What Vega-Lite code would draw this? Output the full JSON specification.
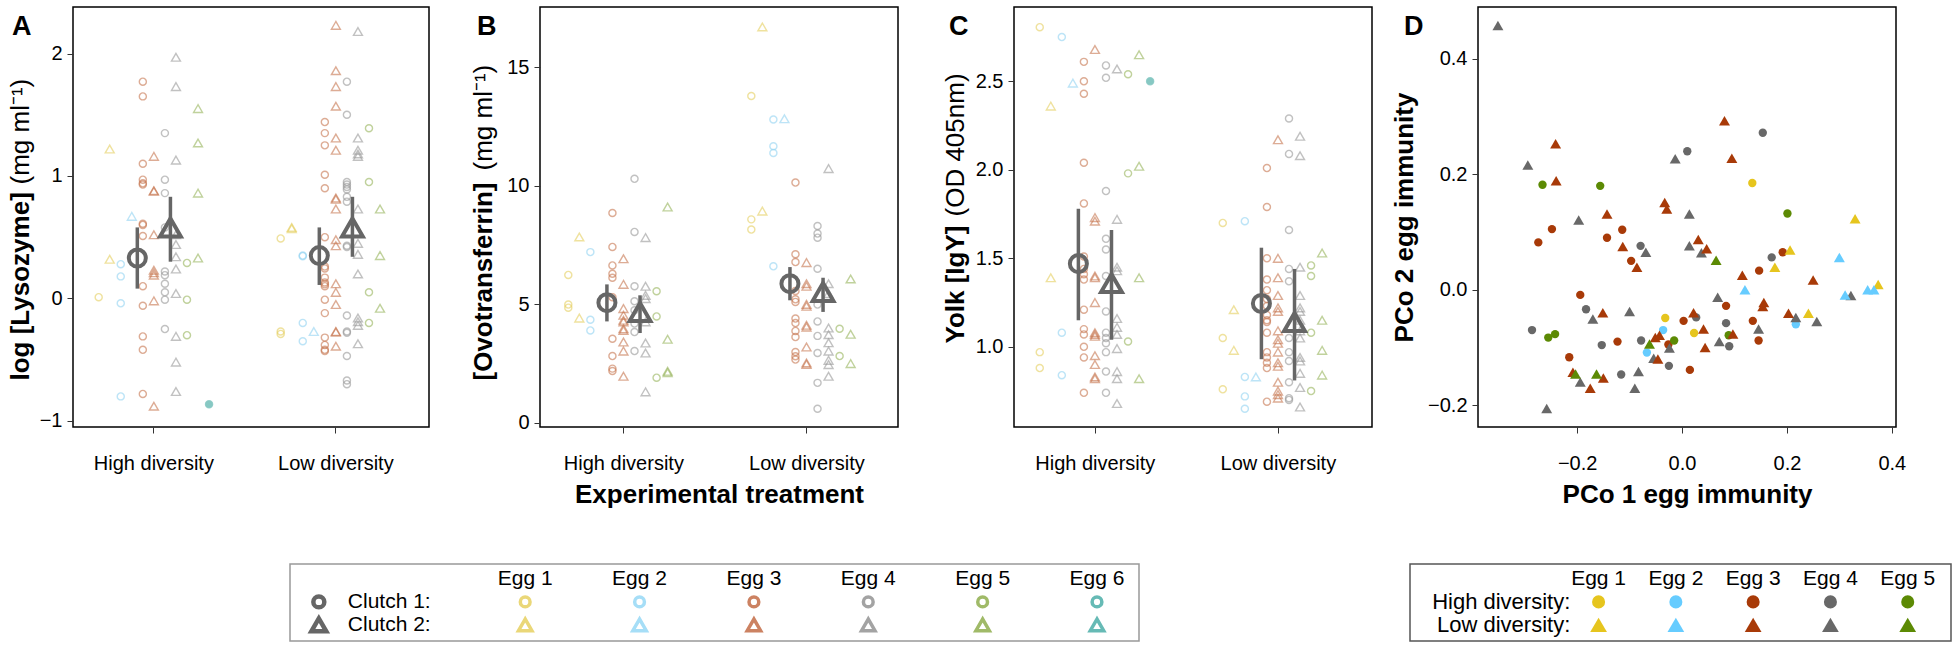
{
"$schema":"https://vega.github.io/schema/vega-lite/v6.json",
"padding":{"left":6,"top":6,"right":0,"bottom":0},
"config":{"font":"Liberation Sans","view":{"stroke":"#000","strokeWidth":1.5},
"axis":{"grid":false,"domain":false,"tickColor":"#333","tickSize":6,"labelFontSize":20,"labelColor":"#000","titleFontSize":26,"titleFontWeight":"bold","titleColor":"#000","labelPadding":5},
"title":{"fontSize":27,"fontWeight":"bold","color":"#000"}},
"datasets":{
"A":[
{"t":"H","s":"E1C1","v":0.01},{"t":"H","s":"E1C2","v":1.22},{"t":"H","s":"E1C2","v":0.32},
{"t":"H","s":"E2C1","v":0.28},{"t":"H","s":"E2C1","v":0.18},{"t":"H","s":"E2C1","v":-0.04},{"t":"H","s":"E2C1","v":-0.8},
{"t":"H","s":"E2C2","v":0.67},
{"t":"H","s":"E3C1","v":1.77},{"t":"H","s":"E3C1","v":1.65},{"t":"H","s":"E3C1","v":1.1},{"t":"H","s":"E3C1","v":0.97},{"t":"H","s":"E3C1","v":0.94},{"t":"H","s":"E3C1","v":0.93},{"t":"H","s":"E3C1","v":0.61},{"t":"H","s":"E3C1","v":0.6},{"t":"H","s":"E3C1","v":0.51},{"t":"H","s":"E3C1","v":0.1},{"t":"H","s":"E3C1","v":-0.06},{"t":"H","s":"E3C1","v":-0.31},{"t":"H","s":"E3C1","v":-0.42},{"t":"H","s":"E3C1","v":-0.78},
{"t":"H","s":"E3C2","v":1.16},{"t":"H","s":"E3C2","v":0.88},{"t":"H","s":"E3C2","v":0.875},{"t":"H","s":"E3C2","v":0.52},{"t":"H","s":"E3C2","v":0.23},{"t":"H","s":"E3C2","v":0.21},{"t":"H","s":"E3C2","v":0.19},{"t":"H","s":"E3C2","v":-0.02},{"t":"H","s":"E3C2","v":-0.88},
{"t":"H","s":"E4C1","v":1.35},{"t":"H","s":"E4C1","v":0.97},{"t":"H","s":"E4C1","v":0.86},{"t":"H","s":"E4C1","v":0.58},{"t":"H","s":"E4C1","v":0.22},{"t":"H","s":"E4C1","v":0.19},{"t":"H","s":"E4C1","v":0.12},{"t":"H","s":"E4C1","v":0.05},{"t":"H","s":"E4C1","v":-0.01},{"t":"H","s":"E4C1","v":-0.25},
{"t":"H","s":"E4C2","v":1.97},{"t":"H","s":"E4C2","v":1.73},{"t":"H","s":"E4C2","v":1.13},{"t":"H","s":"E4C2","v":0.52},{"t":"H","s":"E4C2","v":0.44},{"t":"H","s":"E4C2","v":0.34},{"t":"H","s":"E4C2","v":0.24},{"t":"H","s":"E4C2","v":0.04},{"t":"H","s":"E4C2","v":-0.31},{"t":"H","s":"E4C2","v":-0.52},{"t":"H","s":"E4C2","v":-0.76},
{"t":"H","s":"E5C1","v":0.29},{"t":"H","s":"E5C1","v":-0.01},{"t":"H","s":"E5C1","v":-0.3},
{"t":"H","s":"E5C2","v":1.55},{"t":"H","s":"E5C2","v":1.27},{"t":"H","s":"E5C2","v":0.86},{"t":"H","s":"E5C2","v":0.33},
{"t":"H","s":"E6C1","v":-0.865},
{"t":"L","s":"E1C1","v":0.49},{"t":"L","s":"E1C1","v":-0.27},{"t":"L","s":"E1C1","v":-0.29},
{"t":"L","s":"E1C2","v":0.58},{"t":"L","s":"E1C2","v":0.57},
{"t":"L","s":"E2C1","v":0.35},{"t":"L","s":"E2C1","v":0.345},{"t":"L","s":"E2C1","v":-0.2},{"t":"L","s":"E2C1","v":-0.35},
{"t":"L","s":"E2C2","v":-0.27},
{"t":"L","s":"E3C1","v":1.44},{"t":"L","s":"E3C1","v":1.35},{"t":"L","s":"E3C1","v":1.25},{"t":"L","s":"E3C1","v":1.01},{"t":"L","s":"E3C1","v":0.9},{"t":"L","s":"E3C1","v":0.5},{"t":"L","s":"E3C1","v":0.26},{"t":"L","s":"E3C1","v":0.245},{"t":"L","s":"E3C1","v":0.17},{"t":"L","s":"E3C1","v":0.13},{"t":"L","s":"E3C1","v":0.115},{"t":"L","s":"E3C1","v":0.1},{"t":"L","s":"E3C1","v":-0.01},{"t":"L","s":"E3C1","v":-0.12},{"t":"L","s":"E3C1","v":-0.32},{"t":"L","s":"E3C1","v":-0.38},{"t":"L","s":"E3C1","v":-0.42},{"t":"L","s":"E3C1","v":-0.43},
{"t":"L","s":"E3C2","v":2.23},{"t":"L","s":"E3C2","v":1.86},{"t":"L","s":"E3C2","v":1.73},{"t":"L","s":"E3C2","v":1.57},{"t":"L","s":"E3C2","v":1.31},{"t":"L","s":"E3C2","v":1.21},{"t":"L","s":"E3C2","v":0.82},{"t":"L","s":"E3C2","v":0.81},{"t":"L","s":"E3C2","v":0.73},{"t":"L","s":"E3C2","v":0.48},{"t":"L","s":"E3C2","v":0.43},{"t":"L","s":"E3C2","v":0.12},{"t":"L","s":"E3C2","v":0.05},{"t":"L","s":"E3C2","v":-0.05},{"t":"L","s":"E3C2","v":-0.27},{"t":"L","s":"E3C2","v":-0.275},{"t":"L","s":"E3C2","v":-0.39},
{"t":"L","s":"E4C1","v":1.77},{"t":"L","s":"E4C1","v":1.5},{"t":"L","s":"E4C1","v":0.95},{"t":"L","s":"E4C1","v":0.93},{"t":"L","s":"E4C1","v":0.91},{"t":"L","s":"E4C1","v":0.89},{"t":"L","s":"E4C1","v":0.83},{"t":"L","s":"E4C1","v":0.79},{"t":"L","s":"E4C1","v":0.43},{"t":"L","s":"E4C1","v":0.42},{"t":"L","s":"E4C1","v":-0.14},{"t":"L","s":"E4C1","v":-0.27},{"t":"L","s":"E4C1","v":-0.28},{"t":"L","s":"E4C1","v":-0.47},{"t":"L","s":"E4C1","v":-0.67},{"t":"L","s":"E4C1","v":-0.7},
{"t":"L","s":"E4C2","v":2.18},{"t":"L","s":"E4C2","v":1.31},{"t":"L","s":"E4C2","v":1.21},{"t":"L","s":"E4C2","v":1.18},{"t":"L","s":"E4C2","v":1.16},{"t":"L","s":"E4C2","v":0.73},{"t":"L","s":"E4C2","v":0.45},{"t":"L","s":"E4C2","v":0.36},{"t":"L","s":"E4C2","v":0.2},{"t":"L","s":"E4C2","v":-0.16},{"t":"L","s":"E4C2","v":-0.19},{"t":"L","s":"E4C2","v":-0.22},{"t":"L","s":"E4C2","v":-0.37},
{"t":"L","s":"E5C1","v":1.39},{"t":"L","s":"E5C1","v":0.95},{"t":"L","s":"E5C1","v":0.05},{"t":"L","s":"E5C1","v":-0.2},
{"t":"L","s":"E5C2","v":0.73},{"t":"L","s":"E5C2","v":0.35},{"t":"L","s":"E5C2","v":-0.08}
],
"mA":[{"t":"H","s":"M1","m":0.33,"lo":0.08,"hi":0.58},{"t":"H","s":"M2","m":0.58,"lo":0.3,"hi":0.83},{"t":"L","s":"M1","m":0.35,"lo":0.11,"hi":0.58},{"t":"L","s":"M2","m":0.58,"lo":0.34,"hi":0.83}],
"B":[
{"t":"H","s":"E1C1","v":6.24},{"t":"H","s":"E1C1","v":4.99},{"t":"H","s":"E1C1","v":4.86},
{"t":"H","s":"E1C2","v":7.84},{"t":"H","s":"E1C2","v":4.42},
{"t":"H","s":"E2C1","v":7.2},{"t":"H","s":"E2C1","v":4.35},{"t":"H","s":"E2C1","v":3.9},
{"t":"H","s":"E3C1","v":8.85},{"t":"H","s":"E3C1","v":7.42},{"t":"H","s":"E3C1","v":6.64},{"t":"H","s":"E3C1","v":6.29},{"t":"H","s":"E3C1","v":6.12},{"t":"H","s":"E3C1","v":5.3},{"t":"H","s":"E3C1","v":3.55},{"t":"H","s":"E3C1","v":2.82},{"t":"H","s":"E3C1","v":2.29},{"t":"H","s":"E3C1","v":2.19},
{"t":"H","s":"E3C2","v":6.92},{"t":"H","s":"E3C2","v":5.84},{"t":"H","s":"E3C2","v":4.82},{"t":"H","s":"E3C2","v":4.54},{"t":"H","s":"E3C2","v":4.33},{"t":"H","s":"E3C2","v":4.26},{"t":"H","s":"E3C2","v":3.97},{"t":"H","s":"E3C2","v":3.9},{"t":"H","s":"E3C2","v":3.41},{"t":"H","s":"E3C2","v":3.03},{"t":"H","s":"E3C2","v":1.97},
{"t":"H","s":"E4C1","v":10.29},{"t":"H","s":"E4C1","v":8.05},{"t":"H","s":"E4C1","v":5.76},{"t":"H","s":"E4C1","v":5.13},{"t":"H","s":"E4C1","v":4.75},{"t":"H","s":"E4C1","v":4.19},{"t":"H","s":"E4C1","v":3.83},{"t":"H","s":"E4C1","v":3.03},
{"t":"H","s":"E4C2","v":7.81},{"t":"H","s":"E4C2","v":5.76},{"t":"H","s":"E4C2","v":5.38},{"t":"H","s":"E4C2","v":5.24},{"t":"H","s":"E4C2","v":4.26},{"t":"H","s":"E4C2","v":3.37},{"t":"H","s":"E4C2","v":2.95},{"t":"H","s":"E4C2","v":1.31},
{"t":"H","s":"E5C1","v":5.55},{"t":"H","s":"E5C1","v":4.49},{"t":"H","s":"E5C1","v":1.91},
{"t":"H","s":"E5C2","v":9.1},{"t":"H","s":"E5C2","v":3.53},{"t":"H","s":"E5C2","v":2.18},{"t":"H","s":"E5C2","v":2.12},
{"t":"L","s":"E1C1","v":13.78},{"t":"L","s":"E1C1","v":8.58},{"t":"L","s":"E1C1","v":8.15},
{"t":"L","s":"E1C2","v":16.69},{"t":"L","s":"E1C2","v":8.93},
{"t":"L","s":"E2C1","v":12.79},{"t":"L","s":"E2C1","v":11.66},{"t":"L","s":"E2C1","v":11.38},{"t":"L","s":"E2C1","v":6.6},
{"t":"L","s":"E2C2","v":12.82},
{"t":"L","s":"E3C1","v":10.13},{"t":"L","s":"E3C1","v":7.11},{"t":"L","s":"E3C1","v":6.78},{"t":"L","s":"E3C1","v":5.56},{"t":"L","s":"E3C1","v":5.21},{"t":"L","s":"E3C1","v":5.1},{"t":"L","s":"E3C1","v":4.4},{"t":"L","s":"E3C1","v":4.21},{"t":"L","s":"E3C1","v":3.88},{"t":"L","s":"E3C1","v":3.62},{"t":"L","s":"E3C1","v":2.99},{"t":"L","s":"E3C1","v":2.81},{"t":"L","s":"E3C1","v":2.67},
{"t":"L","s":"E3C2","v":6.76},{"t":"L","s":"E3C2","v":5.87},{"t":"L","s":"E3C2","v":5.76},{"t":"L","s":"E3C2","v":5.0},{"t":"L","s":"E3C2","v":4.92},{"t":"L","s":"E3C2","v":4.12},{"t":"L","s":"E3C2","v":4.04},{"t":"L","s":"E3C2","v":3.2},{"t":"L","s":"E3C2","v":2.53},{"t":"L","s":"E3C2","v":2.47},
{"t":"L","s":"E4C1","v":8.3},{"t":"L","s":"E4C1","v":7.98},{"t":"L","s":"E4C1","v":7.81},{"t":"L","s":"E4C1","v":6.5},{"t":"L","s":"E4C1","v":4.99},{"t":"L","s":"E4C1","v":4.28},{"t":"L","s":"E4C1","v":3.67},{"t":"L","s":"E4C1","v":2.95},{"t":"L","s":"E4C1","v":1.69},{"t":"L","s":"E4C1","v":0.6},
{"t":"L","s":"E4C2","v":10.72},{"t":"L","s":"E4C2","v":5.87},{"t":"L","s":"E4C2","v":5.45},{"t":"L","s":"E4C2","v":4.0},{"t":"L","s":"E4C2","v":3.72},{"t":"L","s":"E4C2","v":3.38},{"t":"L","s":"E4C2","v":3.03},{"t":"L","s":"E4C2","v":2.64},{"t":"L","s":"E4C2","v":2.46},{"t":"L","s":"E4C2","v":1.97},
{"t":"L","s":"E5C1","v":3.97},{"t":"L","s":"E5C1","v":2.82},
{"t":"L","s":"E5C2","v":6.07},{"t":"L","s":"E5C2","v":3.74},{"t":"L","s":"E5C2","v":2.5}
],
"mB":[{"t":"H","s":"M1","m":5.07,"lo":4.28,"hi":5.84},{"t":"H","s":"M2","m":4.68,"lo":3.79,"hi":5.38},{"t":"L","s":"M1","m":5.87,"lo":5.17,"hi":6.57},{"t":"L","s":"M2","m":5.52,"lo":4.68,"hi":6.12}],
"C":[
{"t":"H","s":"E1C1","v":2.806},{"t":"H","s":"E1C1","v":0.97},{"t":"H","s":"E1C1","v":0.88},
{"t":"H","s":"E1C2","v":2.36},{"t":"H","s":"E1C2","v":1.39},
{"t":"H","s":"E2C1","v":2.75},{"t":"H","s":"E2C1","v":1.08},{"t":"H","s":"E2C1","v":0.84},
{"t":"H","s":"E2C2","v":2.49},
{"t":"H","s":"E3C1","v":2.61},{"t":"H","s":"E3C1","v":2.5},{"t":"H","s":"E3C1","v":2.43},{"t":"H","s":"E3C1","v":2.04},{"t":"H","s":"E3C1","v":1.81},{"t":"H","s":"E3C1","v":1.51},{"t":"H","s":"E3C1","v":1.44},{"t":"H","s":"E3C1","v":1.41},{"t":"H","s":"E3C1","v":1.38},{"t":"H","s":"E3C1","v":1.21},{"t":"H","s":"E3C1","v":1.1},{"t":"H","s":"E3C1","v":1.07},{"t":"H","s":"E3C1","v":1.0},{"t":"H","s":"E3C1","v":0.94},{"t":"H","s":"E3C1","v":0.74},
{"t":"H","s":"E3C2","v":2.68},{"t":"H","s":"E3C2","v":1.73},{"t":"H","s":"E3C2","v":1.71},{"t":"H","s":"E3C2","v":1.4},{"t":"H","s":"E3C2","v":1.39},{"t":"H","s":"E3C2","v":1.25},{"t":"H","s":"E3C2","v":1.08},{"t":"H","s":"E3C2","v":1.07},{"t":"H","s":"E3C2","v":1.06},{"t":"H","s":"E3C2","v":0.95},{"t":"H","s":"E3C2","v":0.9},{"t":"H","s":"E3C2","v":0.83},{"t":"H","s":"E3C2","v":0.82},
{"t":"H","s":"E4C1","v":2.59},{"t":"H","s":"E4C1","v":2.52},{"t":"H","s":"E4C1","v":1.88},{"t":"H","s":"E4C1","v":1.61},{"t":"H","s":"E4C1","v":1.55},{"t":"H","s":"E4C1","v":1.4},{"t":"H","s":"E4C1","v":1.2},{"t":"H","s":"E4C1","v":1.08},{"t":"H","s":"E4C1","v":1.05},{"t":"H","s":"E4C1","v":1.02},{"t":"H","s":"E4C1","v":0.97},{"t":"H","s":"E4C1","v":0.86},{"t":"H","s":"E4C1","v":0.74},
{"t":"H","s":"E4C2","v":2.57},{"t":"H","s":"E4C2","v":1.72},{"t":"H","s":"E4C2","v":1.45},{"t":"H","s":"E4C2","v":1.43},{"t":"H","s":"E4C2","v":1.16},{"t":"H","s":"E4C2","v":1.11},{"t":"H","s":"E4C2","v":1.07},{"t":"H","s":"E4C2","v":0.99},{"t":"H","s":"E4C2","v":0.86},{"t":"H","s":"E4C2","v":0.82},{"t":"H","s":"E4C2","v":0.68},
{"t":"H","s":"E5C1","v":2.54},{"t":"H","s":"E5C1","v":1.98},{"t":"H","s":"E5C1","v":1.03},
{"t":"H","s":"E5C2","v":2.65},{"t":"H","s":"E5C2","v":2.02},{"t":"H","s":"E5C2","v":1.39},{"t":"H","s":"E5C2","v":0.82},
{"t":"H","s":"E6C1","v":2.5},
{"t":"L","s":"E1C1","v":1.7},{"t":"L","s":"E1C1","v":1.05},{"t":"L","s":"E1C1","v":0.76},
{"t":"L","s":"E1C2","v":1.21},{"t":"L","s":"E1C2","v":0.98},
{"t":"L","s":"E2C1","v":1.71},{"t":"L","s":"E2C1","v":0.83},{"t":"L","s":"E2C1","v":0.72},{"t":"L","s":"E2C1","v":0.65},
{"t":"L","s":"E2C2","v":0.83},
{"t":"L","s":"E3C1","v":2.01},{"t":"L","s":"E3C1","v":1.79},{"t":"L","s":"E3C1","v":1.5},{"t":"L","s":"E3C1","v":1.38},{"t":"L","s":"E3C1","v":1.32},{"t":"L","s":"E3C1","v":1.27},{"t":"L","s":"E3C1","v":1.23},{"t":"L","s":"E3C1","v":1.18},{"t":"L","s":"E3C1","v":1.15},{"t":"L","s":"E3C1","v":1.14},{"t":"L","s":"E3C1","v":1.08},{"t":"L","s":"E3C1","v":0.97},{"t":"L","s":"E3C1","v":0.94},{"t":"L","s":"E3C1","v":0.91},{"t":"L","s":"E3C1","v":0.88},{"t":"L","s":"E3C1","v":0.69},
{"t":"L","s":"E3C2","v":2.17},{"t":"L","s":"E3C2","v":1.5},{"t":"L","s":"E3C2","v":1.39},{"t":"L","s":"E3C2","v":1.29},{"t":"L","s":"E3C2","v":1.22},{"t":"L","s":"E3C2","v":1.2},{"t":"L","s":"E3C2","v":1.09},{"t":"L","s":"E3C2","v":1.04},{"t":"L","s":"E3C2","v":1.02},{"t":"L","s":"E3C2","v":0.97},{"t":"L","s":"E3C2","v":0.91},{"t":"L","s":"E3C2","v":0.89},{"t":"L","s":"E3C2","v":0.8},{"t":"L","s":"E3C2","v":0.75},{"t":"L","s":"E3C2","v":0.73},{"t":"L","s":"E3C2","v":0.71},
{"t":"L","s":"E4C1","v":2.29},{"t":"L","s":"E4C1","v":2.09},{"t":"L","s":"E4C1","v":1.66},{"t":"L","s":"E4C1","v":1.44},{"t":"L","s":"E4C1","v":1.37},{"t":"L","s":"E4C1","v":1.05},{"t":"L","s":"E4C1","v":0.97},{"t":"L","s":"E4C1","v":0.92},{"t":"L","s":"E4C1","v":0.8},{"t":"L","s":"E4C1","v":0.71},{"t":"L","s":"E4C1","v":0.7},
{"t":"L","s":"E4C2","v":2.19},{"t":"L","s":"E4C2","v":2.08},{"t":"L","s":"E4C2","v":1.45},{"t":"L","s":"E4C2","v":1.29},{"t":"L","s":"E4C2","v":1.22},{"t":"L","s":"E4C2","v":1.2},{"t":"L","s":"E4C2","v":1.15},{"t":"L","s":"E4C2","v":1.09},{"t":"L","s":"E4C2","v":1.05},{"t":"L","s":"E4C2","v":0.94},{"t":"L","s":"E4C2","v":0.92},{"t":"L","s":"E4C2","v":0.85},{"t":"L","s":"E4C2","v":0.77},{"t":"L","s":"E4C2","v":0.66},
{"t":"L","s":"E5C1","v":1.46},{"t":"L","s":"E5C1","v":1.4},{"t":"L","s":"E5C1","v":1.08},{"t":"L","s":"E5C1","v":0.75},
{"t":"L","s":"E5C2","v":1.53},{"t":"L","s":"E5C2","v":1.15},{"t":"L","s":"E5C2","v":0.98},{"t":"L","s":"E5C2","v":0.84}
],
"mC":[{"t":"H","s":"M1","m":1.47,"lo":1.15,"hi":1.78},{"t":"H","s":"M2","m":1.36,"lo":1.04,"hi":1.66},{"t":"L","s":"M1","m":1.245,"lo":0.93,"hi":1.56},{"t":"L","s":"M2","m":1.14,"lo":0.81,"hi":1.44}],
"D":[
{"g":"H","e":"Egg 4","x":0.154,"y":0.272},{"g":"H","e":"Egg 4","x":0.01,"y":0.24},{"g":"H","e":"Egg 4","x":-0.079,"y":0.076},{"g":"H","e":"Egg 4","x":0.171,"y":0.056},{"g":"H","e":"Egg 4","x":-0.183,"y":-0.034},{"g":"H","e":"Egg 4","x":-0.286,"y":-0.07},{"g":"H","e":"Egg 4","x":-0.153,"y":-0.096},{"g":"H","e":"Egg 4","x":-0.078,"y":-0.088},{"g":"H","e":"Egg 4","x":-0.116,"y":-0.147},{"g":"H","e":"Egg 4","x":-0.025,"y":-0.132},{"g":"H","e":"Egg 4","x":0.027,"y":-0.048},{"g":"H","e":"Egg 4","x":0.084,"y":-0.058},{"g":"H","e":"Egg 4","x":0.09,"y":-0.098},
{"g":"H","e":"Egg 3","x":-0.248,"y":0.105},{"g":"H","e":"Egg 3","x":-0.274,"y":0.082},{"g":"H","e":"Egg 3","x":-0.143,"y":0.09},{"g":"H","e":"Egg 3","x":-0.114,"y":0.104},{"g":"H","e":"Egg 3","x":-0.097,"y":0.05},{"g":"H","e":"Egg 3","x":-0.194,"y":-0.009},{"g":"H","e":"Egg 3","x":-0.215,"y":-0.117},{"g":"H","e":"Egg 3","x":-0.123,"y":-0.09},{"g":"H","e":"Egg 3","x":-0.026,"y":-0.095},{"g":"H","e":"Egg 3","x":0.003,"y":-0.054},{"g":"H","e":"Egg 3","x":0.015,"y":-0.139},{"g":"H","e":"Egg 3","x":0.084,"y":-0.028},{"g":"H","e":"Egg 3","x":0.135,"y":-0.054},{"g":"H","e":"Egg 3","x":0.146,"y":-0.088},{"g":"H","e":"Egg 3","x":0.147,"y":0.033},{"g":"H","e":"Egg 3","x":0.192,"y":0.065},
{"g":"H","e":"Egg 1","x":0.134,"y":0.185},{"g":"H","e":"Egg 1","x":-0.032,"y":-0.049},{"g":"H","e":"Egg 1","x":0.023,"y":-0.075},
{"g":"H","e":"Egg 2","x":-0.036,"y":-0.07},{"g":"H","e":"Egg 2","x":-0.067,"y":-0.109},{"g":"H","e":"Egg 2","x":0.217,"y":-0.06},
{"g":"H","e":"Egg 5","x":-0.266,"y":0.182},{"g":"H","e":"Egg 5","x":-0.156,"y":0.18},{"g":"H","e":"Egg 5","x":0.201,"y":0.132},{"g":"H","e":"Egg 5","x":-0.255,"y":-0.083},{"g":"H","e":"Egg 5","x":-0.242,"y":-0.077},{"g":"H","e":"Egg 5","x":-0.015,"y":-0.088},{"g":"H","e":"Egg 5","x":0.089,"y":-0.079},
{"g":"L","e":"Egg 4","x":-0.351,"y":0.458},{"g":"L","e":"Egg 4","x":-0.294,"y":0.216},{"g":"L","e":"Egg 4","x":-0.013,"y":0.227},{"g":"L","e":"Egg 4","x":-0.197,"y":0.121},{"g":"L","e":"Egg 4","x":0.014,"y":0.131},{"g":"L","e":"Egg 4","x":0.014,"y":0.076},{"g":"L","e":"Egg 4","x":-0.069,"y":0.065},{"g":"L","e":"Egg 4","x":0.037,"y":0.064},{"g":"L","e":"Egg 4","x":0.068,"y":-0.013},{"g":"L","e":"Egg 4","x":-0.1,"y":-0.038},{"g":"L","e":"Egg 4","x":-0.17,"y":-0.051},{"g":"L","e":"Egg 4","x":0.146,"y":-0.068},{"g":"L","e":"Egg 4","x":0.217,"y":-0.048},{"g":"L","e":"Egg 4","x":0.257,"y":-0.055},{"g":"L","e":"Egg 4","x":0.322,"y":-0.01},{"g":"L","e":"Egg 4","x":0.071,"y":-0.09},{"g":"L","e":"Egg 4","x":-0.024,"y":-0.101},{"g":"L","e":"Egg 4","x":-0.054,"y":-0.119},{"g":"L","e":"Egg 4","x":-0.083,"y":-0.142},{"g":"L","e":"Egg 4","x":-0.194,"y":-0.16},{"g":"L","e":"Egg 4","x":-0.09,"y":-0.171},{"g":"L","e":"Egg 4","x":-0.258,"y":-0.206},
{"g":"L","e":"Egg 3","x":-0.241,"y":0.253},{"g":"L","e":"Egg 3","x":-0.24,"y":0.189},{"g":"L","e":"Egg 3","x":0.081,"y":0.293},{"g":"L","e":"Egg 3","x":0.095,"y":0.228},{"g":"L","e":"Egg 3","x":-0.033,"y":0.151},{"g":"L","e":"Egg 3","x":-0.029,"y":0.14},{"g":"L","e":"Egg 3","x":-0.143,"y":0.131},{"g":"L","e":"Egg 3","x":-0.113,"y":0.075},{"g":"L","e":"Egg 3","x":-0.086,"y":0.039},{"g":"L","e":"Egg 3","x":0.031,"y":0.087},{"g":"L","e":"Egg 3","x":0.047,"y":0.071},{"g":"L","e":"Egg 3","x":0.115,"y":0.025},{"g":"L","e":"Egg 3","x":0.25,"y":0.017},{"g":"L","e":"Egg 3","x":0.156,"y":-0.022},{"g":"L","e":"Egg 3","x":0.154,"y":-0.029},{"g":"L","e":"Egg 3","x":-0.151,"y":-0.04},{"g":"L","e":"Egg 3","x":0.022,"y":-0.04},{"g":"L","e":"Egg 3","x":0.041,"y":-0.068},{"g":"L","e":"Egg 3","x":0.203,"y":-0.041},{"g":"L","e":"Egg 3","x":-0.051,"y":-0.083},{"g":"L","e":"Egg 3","x":-0.043,"y":-0.079},{"g":"L","e":"Egg 3","x":0.097,"y":-0.077},{"g":"L","e":"Egg 3","x":0.044,"y":-0.1},{"g":"L","e":"Egg 3","x":-0.046,"y":-0.12},{"g":"L","e":"Egg 3","x":-0.208,"y":-0.143},{"g":"L","e":"Egg 3","x":-0.175,"y":-0.171},{"g":"L","e":"Egg 3","x":-0.15,"y":-0.153},
{"g":"L","e":"Egg 1","x":0.33,"y":0.123},{"g":"L","e":"Egg 1","x":0.206,"y":0.069},{"g":"L","e":"Egg 1","x":0.177,"y":0.039},{"g":"L","e":"Egg 1","x":0.374,"y":0.009},{"g":"L","e":"Egg 1","x":0.241,"y":-0.041},
{"g":"L","e":"Egg 2","x":0.3,"y":0.056},{"g":"L","e":"Egg 2","x":0.12,"y":0.0},{"g":"L","e":"Egg 2","x":0.311,"y":-0.009},{"g":"L","e":"Egg 2","x":0.354,"y":0.0},{"g":"L","e":"Egg 2","x":0.366,"y":0.0},
{"g":"L","e":"Egg 5","x":0.065,"y":0.051},{"g":"L","e":"Egg 5","x":-0.062,"y":-0.094},{"g":"L","e":"Egg 5","x":-0.163,"y":-0.146},{"g":"L","e":"Egg 5","x":-0.203,"y":-0.146}
],
"L1h":[{"row":"head","col":"Egg 1"},{"row":"head","col":"Egg 2"},{"row":"head","col":"Egg 3"},{"row":"head","col":"Egg 4"},{"row":"head","col":"Egg 5"},{"row":"head","col":"Egg 6"}],
"L1k":[{"row":"r1","col":"key","txt":"Clutch 1:"},{"row":"r2","col":"key","txt":"Clutch 2:"}],
"L1s":[{"row":"r1","col":"Egg 1"},{"row":"r1","col":"Egg 2"},{"row":"r1","col":"Egg 3"},{"row":"r1","col":"Egg 4"},{"row":"r1","col":"Egg 5"},{"row":"r1","col":"Egg 6"},{"row":"r2","col":"Egg 1"},{"row":"r2","col":"Egg 2"},{"row":"r2","col":"Egg 3"},{"row":"r2","col":"Egg 4"},{"row":"r2","col":"Egg 5"},{"row":"r2","col":"Egg 6"}],
"L2h":[{"row":"head","col":"Egg 1"},{"row":"head","col":"Egg 2"},{"row":"head","col":"Egg 3"},{"row":"head","col":"Egg 4"},{"row":"head","col":"Egg 5"}],
"L2k":[{"row":"r1","col":"key","txt":"High diversity:"},{"row":"r2","col":"key","txt":"Low diversity:"}],
"L2s":[{"row":"r1","col":"Egg 1"},{"row":"r1","col":"Egg 2"},{"row":"r1","col":"Egg 3"},{"row":"r1","col":"Egg 4"},{"row":"r1","col":"Egg 5"},{"row":"r2","col":"Egg 1"},{"row":"r2","col":"Egg 2"},{"row":"r2","col":"Egg 3"},{"row":"r2","col":"Egg 4"},{"row":"r2","col":"Egg 5"}]
},
"spacing":55,
"resolve":{"scale":{"color":"independent","shape":"independent","fill":"independent","size":"independent"}},
"vconcat":[
{"bounds":"flush","spacing":0,
 "resolve":{"scale":{"color":"independent","shape":"independent","fill":"independent","size":"independent"}},
 "hconcat":[
  {"width":356,"height":420,
   "title":{"text":"A","anchor":"start","frame":"group","baseline":"top","offset":0,"dx":-61,"dy":34},
   "resolve":{"axis":{"y":"independent"}},
   "layer":[
    {"data":{"name":"A"},"mark":{"type":"point","filled":false,"strokeWidth":1.4,"strokeOpacity":0.85},
     "encoding":{
      "x":{"field":"t","type":"nominal","scale":{"domain":["H","L"],"paddingInner":0.242,"paddingOuter":0.099,"align":0.33},"axis":{"title":null,"labelAngle":0,"labelPadding":20,"labelExpr":"datum.value=='H'?'High diversity':'Low diversity'"}},
      "xOffset":{"field":"s","type":"nominal","scale":{"domain":["x0","x1","E1C1","x2","E1C2","x3","E2C1","x4","E2C2","M1","E3C1","x5","E3C2","x6","E4C1","M2","E4C2","x7","E5C1","x8","E5C2","x9","E6C1","x10","E6C2"],"paddingInner":0,"paddingOuter":0}},
      "y":{"field":"v","type":"quantitative","scale":{"domain":[-1.05,2.38],"nice":false,"zero":false},"axis":{"orient":"left","values":[-1,0,1,2],"title":"log [Lysozyme]","titleX":-53,"titleY":373,"titleAlign":"left","titleBaseline":"middle","titleAngle":-90}},
      "color":{"field":"s","type":"nominal","scale":{"domain":["E1C1","E1C2","E2C1","E2C2","E3C1","E3C2","E4C1","E4C2","E5C1","E5C2","E6C1","E6C2"],"range":["#E5CF5E","#E5CF5E","#92D4F2","#92D4F2","#C7764F","#C7764F","#999999","#999999","#97B45A","#97B45A","#55B2AA","#55B2AA"]},"legend":null},
      "fill":{"condition":{"test":"datum.s=='E6C1'","value":"#55B2AA"},"value":"transparent"},
      "size":{"field":"s","type":"nominal","scale":{"type":"ordinal","domain":["E1C1","E1C2","E2C1","E2C2","E3C1","E3C2","E4C1","E4C2","E5C1","E5C2","E6C1","E6C2"],"range":[50,80,50,80,50,80,50,80,50,80,50,80]},"legend":null},
      "shape":{"field":"s","type":"nominal","scale":{"domain":["E1C1","E1C2","E2C1","E2C2","E3C1","E3C2","E4C1","E4C2","E5C1","E5C2","E6C1","E6C2"],"range":["circle","triangle-up","circle","triangle-up","circle","triangle-up","circle","triangle-up","circle","triangle-up","circle","triangle-up"]},"legend":null}
     }},
    {"data":{"name":"mA"},"mark":{"type":"rule","color":"#666","strokeWidth":3.5},
     "encoding":{
      "x":{"field":"t","type":"nominal","axis":{"title":null,"labelAngle":0,"labelPadding":20,"labelExpr":"datum.value=='H'?'High diversity':'Low diversity'"}},
      "xOffset":{"field":"s","type":"nominal"},
      "y":{"field":"lo","type":"quantitative","axis":{"orient":"left","labels":false,"ticks":false,"title":"(mg ml⁻¹)","titleFontWeight":"normal","titleX":-53,"titleY":177,"titleAlign":"left","titleBaseline":"middle","titleAngle":-90}},
      "y2":{"field":"hi"}}},
    {"data":{"name":"mA"},"transform":[{"filter":"datum.s=='M1'"}],"mark":{"type":"point","shape":"circle","size":290,"filled":false,"color":"#666","strokeWidth":4,"opacity":1},
     "encoding":{
      "x":{"field":"t","type":"nominal","axis":{"title":null,"labelAngle":0,"labelPadding":20,"labelExpr":"datum.value=='H'?'High diversity':'Low diversity'"}},
      "xOffset":{"field":"s","type":"nominal"},
      "y":{"field":"m","type":"quantitative","axis":null}}},
    {"data":{"name":"mA"},"transform":[{"filter":"datum.s=='M2'"}],"mark":{"type":"point","shape":"triangle-up","size":430,"filled":false,"color":"#666","strokeWidth":4,"opacity":1},
     "encoding":{
      "x":{"field":"t","type":"nominal","axis":{"title":null,"labelAngle":0,"labelPadding":20,"labelExpr":"datum.value=='H'?'High diversity':'Low diversity'"}},
      "xOffset":{"field":"s","type":"nominal"},
      "y":{"field":"m","type":"quantitative","axis":null}}}
   ]},
  {"width":111,"height":420,"data":{"values":[]},"mark":"point","view":{"stroke":null}},
  {"width":358,"height":420,
   "title":{"text":"B","anchor":"start","frame":"group","baseline":"top","offset":0,"dx":-63,"dy":34},
   "resolve":{"axis":{"y":"independent"}},
   "layer":[
    {"data":{"name":"B"},"mark":{"type":"point","filled":false,"strokeWidth":1.4,"strokeOpacity":0.85},
     "encoding":{
      "x":{"field":"t","type":"nominal","scale":{"domain":["H","L"],"paddingInner":0.242,"paddingOuter":0.099,"align":0.4},"axis":{"title":"Experimental treatment","titlePadding":8,"labelAngle":0,"labelPadding":20,"labelExpr":"datum.value=='H'?'High diversity':'Low diversity'"}},
      "xOffset":{"field":"s","type":"nominal","scale":{"domain":["x0","x1","E1C1","x2","E1C2","x3","E2C1","x4","E2C2","M1","E3C1","x5","E3C2","x6","E4C1","M2","E4C2","x7","E5C1","x8","E5C2","x9","E6C1","x10","E6C2"],"paddingInner":0,"paddingOuter":0}},
      "y":{"field":"v","type":"quantitative","scale":{"domain":[-0.17,17.53],"nice":false,"zero":false},"axis":{"orient":"left","values":[0,5,10,15],"title":"[Ovotransferrin]","titleX":-57,"titleY":373,"titleAlign":"left","titleBaseline":"middle","titleAngle":-90}},
      "color":{"field":"s","type":"nominal","scale":{"domain":["E1C1","E1C2","E2C1","E2C2","E3C1","E3C2","E4C1","E4C2","E5C1","E5C2","E6C1","E6C2"],"range":["#E5CF5E","#E5CF5E","#92D4F2","#92D4F2","#C7764F","#C7764F","#999999","#999999","#97B45A","#97B45A","#55B2AA","#55B2AA"]},"legend":null},
      "fill":{"condition":{"test":"datum.s=='E6C1'","value":"#55B2AA"},"value":"transparent"},
      "size":{"field":"s","type":"nominal","scale":{"type":"ordinal","domain":["E1C1","E1C2","E2C1","E2C2","E3C1","E3C2","E4C1","E4C2","E5C1","E5C2","E6C1","E6C2"],"range":[50,80,50,80,50,80,50,80,50,80,50,80]},"legend":null},
      "shape":{"field":"s","type":"nominal","scale":{"domain":["E1C1","E1C2","E2C1","E2C2","E3C1","E3C2","E4C1","E4C2","E5C1","E5C2","E6C1","E6C2"],"range":["circle","triangle-up","circle","triangle-up","circle","triangle-up","circle","triangle-up","circle","triangle-up","circle","triangle-up"]},"legend":null}
     }},
    {"data":{"name":"mB"},"mark":{"type":"rule","color":"#666","strokeWidth":3.5},
     "encoding":{
      "x":{"field":"t","type":"nominal","axis":{"title":"Experimental treatment","titlePadding":8,"labelAngle":0,"labelPadding":20,"labelExpr":"datum.value=='H'?'High diversity':'Low diversity'"}},
      "xOffset":{"field":"s","type":"nominal"},
      "y":{"field":"lo","type":"quantitative","axis":{"orient":"left","labels":false,"ticks":false,"title":"(mg ml⁻¹)","titleFontWeight":"normal","titleX":-57,"titleY":163,"titleAlign":"left","titleBaseline":"middle","titleAngle":-90}},
      "y2":{"field":"hi"}}},
    {"data":{"name":"mB"},"transform":[{"filter":"datum.s=='M1'"}],"mark":{"type":"point","shape":"circle","size":290,"filled":false,"color":"#666","strokeWidth":4,"opacity":1},
     "encoding":{
      "x":{"field":"t","type":"nominal","axis":{"title":"Experimental treatment","titlePadding":8,"labelAngle":0,"labelPadding":20,"labelExpr":"datum.value=='H'?'High diversity':'Low diversity'"}},
      "xOffset":{"field":"s","type":"nominal"},
      "y":{"field":"m","type":"quantitative","axis":null}}},
    {"data":{"name":"mB"},"transform":[{"filter":"datum.s=='M2'"}],"mark":{"type":"point","shape":"triangle-up","size":430,"filled":false,"color":"#666","strokeWidth":4,"opacity":1},
     "encoding":{
      "x":{"field":"t","type":"nominal","axis":{"title":"Experimental treatment","titlePadding":8,"labelAngle":0,"labelPadding":20,"labelExpr":"datum.value=='H'?'High diversity':'Low diversity'"}},
      "xOffset":{"field":"s","type":"nominal"},
      "y":{"field":"m","type":"quantitative","axis":null}}}
   ]},
  {"width":116,"height":420,"data":{"values":[]},"mark":"point","view":{"stroke":null}},
  {"width":358,"height":420,
   "title":{"text":"C","anchor":"start","frame":"group","baseline":"top","offset":0,"dx":-65,"dy":34},
   "resolve":{"axis":{"y":"independent"}},
   "layer":[
    {"data":{"name":"C"},"mark":{"type":"point","filled":false,"strokeWidth":1.4,"strokeOpacity":0.85},
     "encoding":{
      "x":{"field":"t","type":"nominal","scale":{"domain":["H","L"],"paddingInner":0.242,"paddingOuter":0.099,"align":0.33},"axis":{"title":null,"labelAngle":0,"labelPadding":20,"labelExpr":"datum.value=='H'?'High diversity':'Low diversity'"}},
      "xOffset":{"field":"s","type":"nominal","scale":{"domain":["x0","x1","E1C1","x2","E1C2","x3","E2C1","x4","E2C2","M1","E3C1","x5","E3C2","x6","E4C1","M2","E4C2","x7","E5C1","x8","E5C2","x9","E6C1","x10","E6C2"],"paddingInner":0,"paddingOuter":0}},
      "y":{"field":"v","type":"quantitative","scale":{"domain":[0.547,2.92],"nice":false,"zero":false},"axis":{"orient":"left","values":[1,1.5,2,2.5],"format":".1f","title":"Yolk [IgY]","titleX":-59,"titleY":336,"titleAlign":"left","titleBaseline":"middle","titleAngle":-90}},
      "color":{"field":"s","type":"nominal","scale":{"domain":["E1C1","E1C2","E2C1","E2C2","E3C1","E3C2","E4C1","E4C2","E5C1","E5C2","E6C1","E6C2"],"range":["#E5CF5E","#E5CF5E","#92D4F2","#92D4F2","#C7764F","#C7764F","#999999","#999999","#97B45A","#97B45A","#55B2AA","#55B2AA"]},"legend":null},
      "fill":{"condition":{"test":"datum.s=='E6C1'","value":"#55B2AA"},"value":"transparent"},
      "size":{"field":"s","type":"nominal","scale":{"type":"ordinal","domain":["E1C1","E1C2","E2C1","E2C2","E3C1","E3C2","E4C1","E4C2","E5C1","E5C2","E6C1","E6C2"],"range":[50,80,50,80,50,80,50,80,50,80,50,80]},"legend":null},
      "shape":{"field":"s","type":"nominal","scale":{"domain":["E1C1","E1C2","E2C1","E2C2","E3C1","E3C2","E4C1","E4C2","E5C1","E5C2","E6C1","E6C2"],"range":["circle","triangle-up","circle","triangle-up","circle","triangle-up","circle","triangle-up","circle","triangle-up","circle","triangle-up"]},"legend":null}
     }},
    {"data":{"name":"mC"},"mark":{"type":"rule","color":"#666","strokeWidth":3.5},
     "encoding":{
      "x":{"field":"t","type":"nominal","axis":{"title":null,"labelAngle":0,"labelPadding":20,"labelExpr":"datum.value=='H'?'High diversity':'Low diversity'"}},
      "xOffset":{"field":"s","type":"nominal"},
      "y":{"field":"lo","type":"quantitative","axis":{"orient":"left","labels":false,"ticks":false,"title":"(OD 405nm)","titleFontWeight":"normal","titleX":-59,"titleY":209,"titleAlign":"left","titleBaseline":"middle","titleAngle":-90}},
      "y2":{"field":"hi"}}},
    {"data":{"name":"mC"},"transform":[{"filter":"datum.s=='M1'"}],"mark":{"type":"point","shape":"circle","size":290,"filled":false,"color":"#666","strokeWidth":4,"opacity":1},
     "encoding":{
      "x":{"field":"t","type":"nominal","axis":{"title":null,"labelAngle":0,"labelPadding":20,"labelExpr":"datum.value=='H'?'High diversity':'Low diversity'"}},
      "xOffset":{"field":"s","type":"nominal"},
      "y":{"field":"m","type":"quantitative","axis":null}}},
    {"data":{"name":"mC"},"transform":[{"filter":"datum.s=='M2'"}],"mark":{"type":"point","shape":"triangle-up","size":430,"filled":false,"color":"#666","strokeWidth":4,"opacity":1},
     "encoding":{
      "x":{"field":"t","type":"nominal","axis":{"title":null,"labelAngle":0,"labelPadding":20,"labelExpr":"datum.value=='H'?'High diversity':'Low diversity'"}},
      "xOffset":{"field":"s","type":"nominal"},
      "y":{"field":"m","type":"quantitative","axis":null}}}
   ]},
  {"width":106,"height":420,"data":{"values":[]},"mark":"point","view":{"stroke":null}},
  {"width":418,"height":420,
   "title":{"text":"D","anchor":"start","frame":"group","baseline":"top","offset":0,"dx":-74,"dy":34},
   "data":{"name":"D"},
   "mark":{"type":"point","filled":true,"opacity":1},
   "encoding":{
    "x":{"field":"x","type":"quantitative","scale":{"domain":[-0.389,0.408],"nice":false,"zero":false},"axis":{"values":[-0.2,0,0.2,0.4],"format":".1f","title":"PCo 1 egg immunity","labelPadding":20,"titlePadding":8}},
    "y":{"field":"y","type":"quantitative","scale":{"domain":[-0.238,0.49],"nice":false,"zero":false},"axis":{"values":[-0.2,0,0.2,0.4],"format":".1f","title":"PCo 2 egg immunity","titlePadding":10}},
    "color":{"field":"e","type":"nominal","scale":{"domain":["Egg 1","Egg 2","Egg 3","Egg 4","Egg 5"],"range":["#E6C51E","#66CCFF","#A83A08","#686868","#5C8A04"]},"legend":null},
    "size":{"field":"g","type":"nominal","scale":{"type":"ordinal","domain":["H","L"],"range":[70,120]},"legend":null},
    "shape":{"field":"g","type":"nominal","scale":{"domain":["H","L"],"range":["circle","triangle-up"]},"legend":null}
   }}
 ]},
{"bounds":"flush","spacing":0,
 "resolve":{"scale":{"color":"independent","shape":"independent","fill":"independent","size":"independent"}},
 "hconcat":[
  {"width":217,"height":77,"data":{"values":[]},"mark":"point","view":{"stroke":null}},
  {"width":849,"height":77,"view":{"stroke":"#999","strokeWidth":1.5},
   "layer":[
    {"data":{"name":"L1h"},"mark":{"type":"text","fontSize":21,"baseline":"middle"},
     "encoding":{"x":{"field":"col","type":"nominal","scale":{"type":"point","domain":["key","Egg 1","Egg 2","Egg 3","Egg 4","Egg 5","Egg 6"],"padding":0.712,"align":0.742},"axis":null},
      "y":{"field":"row","type":"nominal","scale":{"type":"point","domain":["head","r1","r2"],"padding":0.674,"align":0.48},"axis":null},
      "text":{"field":"col"}}},
    {"data":{"name":"L1k"},"mark":{"type":"text","fontSize":21,"baseline":"middle","align":"left","dx":-63},
     "encoding":{"x":{"field":"col","type":"nominal","axis":null},"y":{"field":"row","type":"nominal","axis":null},"text":{"field":"txt"}}},
    {"data":{"name":"L1k"},"transform":[{"filter":"datum.row=='r1'"}],"mark":{"type":"point","shape":"circle","size":120,"filled":false,"color":"#666","strokeWidth":4.5,"opacity":1},
     "encoding":{"x":{"field":"col","type":"nominal","axis":null},"xOffset":{"value":-92},"y":{"field":"row","type":"nominal","axis":null}}},
    {"data":{"name":"L1k"},"transform":[{"filter":"datum.row=='r2'"}],"mark":{"type":"point","shape":"triangle-up","size":220,"filled":false,"color":"#666","strokeWidth":4.5,"opacity":1},
     "encoding":{"x":{"field":"col","type":"nominal","axis":null},"xOffset":{"value":-92},"y":{"field":"row","type":"nominal","axis":null}}},
    {"data":{"name":"L1s"},"transform":[{"filter":"datum.row=='r1'"}],"mark":{"type":"point","shape":"circle","size":95,"filled":false,"strokeWidth":3.5,"opacity":1},
     "encoding":{"x":{"field":"col","type":"nominal","axis":null},"y":{"field":"row","type":"nominal","axis":null},
      "color":{"field":"col","type":"nominal","scale":{"domain":["Egg 1","Egg 2","Egg 3","Egg 4","Egg 5","Egg 6"],"range":["#EAD778","#A6DEF7","#CC8262","#A3A3A3","#A0BA68","#66BAB5"]},"legend":null}}},
    {"data":{"name":"L1s"},"transform":[{"filter":"datum.row=='r2'"}],"mark":{"type":"point","shape":"triangle-up","size":180,"filled":false,"strokeWidth":3.5,"opacity":1},
     "encoding":{"x":{"field":"col","type":"nominal","axis":null},"y":{"field":"row","type":"nominal","axis":null},
      "color":{"field":"col","type":"nominal","legend":null}}}
   ]},
  {"width":271,"height":77,"data":{"values":[]},"mark":"point","view":{"stroke":null}},
  {"width":541,"height":77,"view":{"stroke":"#555","strokeWidth":1.5},
   "layer":[
    {"data":{"name":"L2h"},"mark":{"type":"text","fontSize":21,"baseline":"middle"},
     "encoding":{"x":{"field":"col","type":"nominal","scale":{"type":"point","domain":["key","Egg 1","Egg 2","Egg 3","Egg 4","Egg 5"],"padding":1.0,"align":0.72},"axis":null},
      "y":{"field":"row","type":"nominal","scale":{"type":"point","domain":["head","r1","r2"],"padding":0.674,"align":0.48},"axis":null},
      "text":{"field":"col"}}},
    {"data":{"name":"L2k"},"mark":{"type":"text","fontSize":22,"baseline":"middle","align":"right","dx":49},
     "encoding":{"x":{"field":"col","type":"nominal","axis":null},"y":{"field":"row","type":"nominal","axis":null},"text":{"field":"txt"}}},
    {"data":{"name":"L2s"},"transform":[{"filter":"datum.row=='r1'"}],"mark":{"type":"point","shape":"circle","size":170,"filled":true,"opacity":1},
     "encoding":{"x":{"field":"col","type":"nominal","axis":null},"y":{"field":"row","type":"nominal","axis":null},
      "color":{"field":"col","type":"nominal","scale":{"domain":["Egg 1","Egg 2","Egg 3","Egg 4","Egg 5"],"range":["#E6C51E","#66CCFF","#A83A08","#686868","#5C8A04"]},"legend":null}}},
    {"data":{"name":"L2s"},"transform":[{"filter":"datum.row=='r2'"}],"mark":{"type":"point","shape":"triangle-up","size":280,"filled":true,"opacity":1},
     "encoding":{"x":{"field":"col","type":"nominal","axis":null},"y":{"field":"row","type":"nominal","axis":null},
      "color":{"field":"col","type":"nominal","legend":null}}}
   ]}
 ]}
]
}
